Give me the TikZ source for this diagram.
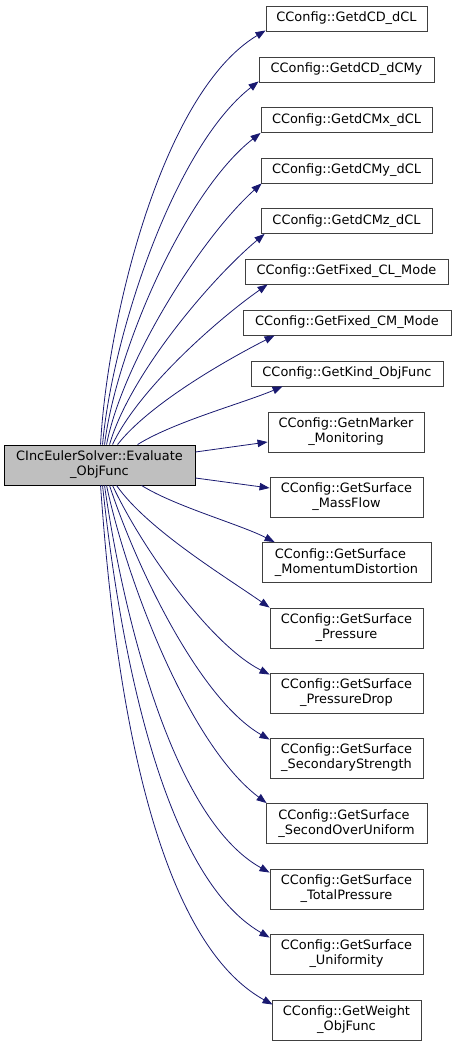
\documentclass[tikz,border=0pt]{standalone}
\usepackage{fontspec}
\setmainfont{DejaVu Sans}
\usetikzlibrary{arrows.meta}
\definecolor{edgeblue}{RGB}{25,25,112}
\definecolor{boxline}{RGB}{64,64,64}
\definecolor{mainfill}{RGB}{191,191,191}
\tikzset{
  fbox/.style={draw=boxline, line width=0.9pt, fill=white, inner sep=0pt, align=center,
    font=\fontsize{12.9}{14.8}\selectfont},
  onebox/.style={fbox, minimum height=25pt},
  twobox/.style={fbox, minimum height=40pt},
  call/.style={draw=edgeblue, line width=0.8pt, -{Triangle[length=10pt,width=7.5pt]}, color=edgeblue}
}
\begin{document}
\begin{tikzpicture}[x=1pt,y=1pt]
\useasboundingbox (0,0) rectangle (456,-1046);
\node[twobox, fill=mainfill, draw=black, minimum width=191pt] (main) at (99.5,-465) {CIncEulerSolver::Evaluate\\\_ObjFunc};
\node[onebox, minimum width=161pt] (n1) at (346.5,-18.5) {CConfig::GetdCD\_dCL};
\node[onebox, minimum width=175pt] (n2) at (346.5,-69.5) {CConfig::GetdCD\_dCMy};
\node[onebox, minimum width=171pt] (n3) at (346.5,-120) {CConfig::GetdCMx\_dCL};
\node[onebox, minimum width=171pt] (n4) at (346.5,-170.5) {CConfig::GetdCMy\_dCL};
\node[onebox, minimum width=171pt] (n5) at (346.5,-221) {CConfig::GetdCMz\_dCL};
\node[onebox, minimum width=203pt] (n6) at (346.5,-271.5) {CConfig::GetFixed\_CL\_Mode};
\node[onebox, minimum width=208pt] (n7) at (347,-322.5) {CConfig::GetFixed\_CM\_Mode};
\node[onebox, minimum width=192pt] (n8) at (347,-373.5) {CConfig::GetKind\_ObjFunc};
\node[twobox, minimum width=156pt] (n9) at (346,-432) {CConfig::GetnMarker\\\_Monitoring};
\node[twobox, minimum width=153pt] (n10) at (346.5,-497) {CConfig::GetSurface\\\_MassFlow};
\node[twobox, minimum width=169pt, align=left] (n11) at (346.5,-562.5) {CConfig::GetSurface\\\_MomentumDistortion};
\node[twobox, minimum width=153pt] (n12) at (346.5,-628) {CConfig::GetSurface\\\_Pressure};
\node[twobox, minimum width=153pt] (n13) at (346.5,-693) {CConfig::GetSurface\\\_PressureDrop};
\node[twobox, minimum width=153pt] (n14) at (346.5,-758) {CConfig::GetSurface\\\_SecondaryStrength};
\node[twobox, minimum width=161pt, align=left] (n15) at (346.5,-823.5) {CConfig::GetSurface\\\_SecondOverUniform};
\node[twobox, minimum width=153pt] (n16) at (346.5,-889) {CConfig::GetSurface\\\_TotalPressure};
\node[twobox, minimum width=153pt] (n17) at (346.5,-954) {CConfig::GetSurface\\\_Uniformity};
\node[twobox, minimum width=149pt] (n18) at (346.5,-1020) {CConfig::GetWeight\\\_ObjFunc};
% upper edges
\draw[call] ([xshift=97pt]main.north west) to[out=87,in=211,looseness=0.7] ([yshift=1pt]n1.south west);
\draw[call] ([xshift=99pt]main.north west) to[out=85,in=218,looseness=0.7] ([yshift=1pt]n2.south west);
\draw[call] ([xshift=101pt]main.north west) to[out=83,in=218,looseness=0.7] (n3.south west);
\draw[call] ([xshift=103pt]main.north west) to[out=79,in=222,looseness=0.7] ([xshift=1pt]n4.south west);
\draw[call] ([xshift=106pt]main.north west) to[out=74,in=220,looseness=0.7] ([xshift=4pt]n5.south west);
\draw[call] ([xshift=109pt]main.north west) to[out=65,in=215,looseness=0.7] ([xshift=23pt]n6.south west);
\draw[call] ([xshift=114pt]main.north west) to[out=52,in=207,looseness=0.7] ([xshift=32pt]n7.south west);
\draw[call] ([xshift=134pt]main.north west) to[out=32,in=203,looseness=0.7] ([xshift=32pt]n8.south west);
\draw[call] ([yshift=13pt]main.east) -- ([yshift=-10pt]n9.west);
\draw[call] ([yshift=-13pt]main.east) -- ([yshift=9pt]n10.west);
% lower edges
\draw[call] ([xshift=138pt]main.south west) to[out=-32,in=153,looseness=0.7] ([xshift=13pt]n11.north west);
\draw[call] ([xshift=113pt]main.south west) to[out=-55,in=145,looseness=0.7] (n12.north west);
\draw[call] ([xshift=109pt]main.south west) to[out=-65,in=153,looseness=0.7] ([yshift=-2pt]n13.north west);
\draw[call] ([xshift=106pt]main.south west) to[out=-72,in=150,looseness=0.7] ([yshift=-2pt]n14.north west);
\draw[call] ([xshift=103pt]main.south west) to[out=-78,in=143,looseness=0.7] ([xshift=1pt]n15.north west);
\draw[call] ([xshift=101pt]main.south west) to[out=-82,in=151,looseness=0.7] ([yshift=-4pt]n16.north west);
\draw[call] ([xshift=99pt]main.south west) to[out=-84,in=150,looseness=0.7] ([yshift=-4pt]n17.north west);
\draw[call] ([xshift=97pt]main.south west) to[out=-86,in=151,looseness=0.7] ([xshift=1pt,yshift=-5pt]n18.north west);
\end{tikzpicture}
\end{document}
